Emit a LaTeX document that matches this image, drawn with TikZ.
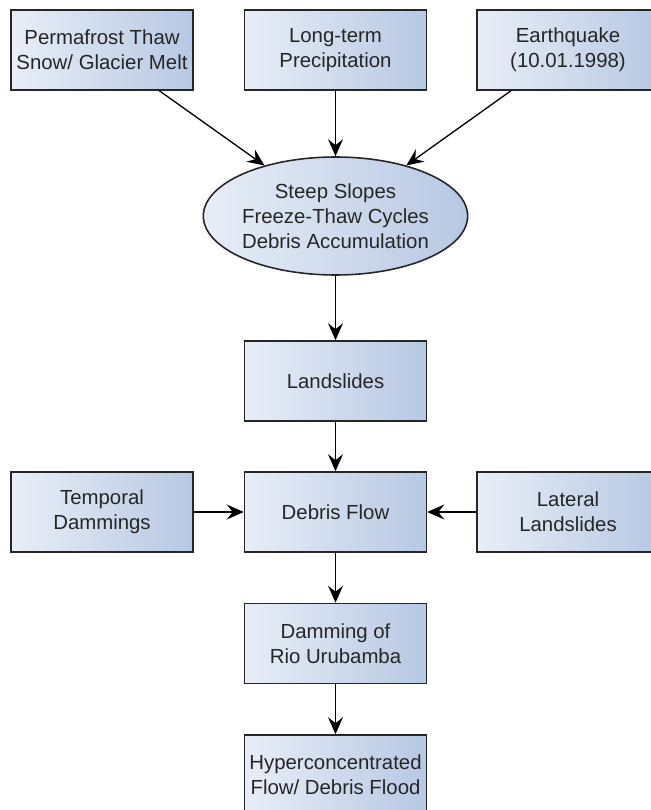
\documentclass[tikz,border=0pt]{standalone}
\usepackage{fontspec}
\setmainfont{Liberation Sans}
\usepackage{xcolor}
\usetikzlibrary{arrows.meta,shapes}

\definecolor{boxlight}{RGB}{232,238,247}
\definecolor{boxdark}{RGB}{183,200,227}
\definecolor{boxtext}{RGB}{38,38,38}

\tikzset{
  cause/.style={draw=black!85,line width=0.9pt,left color=boxlight,right color=boxdark,
    text=boxtext,align=center,font=\fontsize{11.6}{14.2}\selectfont},
  stepbox/.style={cause,rectangle,minimum width=3.64cm,minimum height=1.6cm,inner sep=0pt},
  factors/.style={cause,ellipse,minimum width=5.28cm,minimum height=2.36cm,inner sep=0pt},
  flow/.style={->,line width=0.75pt,black}
}

\begin{document}
\begin{tikzpicture}[>={Stealth[length=0.34cm,width=0.3cm,inset=0.12cm]},x=0.02cm,y=-0.02cm]
\useasboundingbox (0,0) rectangle (651,810);
% triggers
\node[stepbox] (thaw) at (102,50) {Permafrost Thaw\\Snow/ Glacier Melt};
\node[stepbox] (rain) at (335.5,50) {Long-term\\Precipitation};
\node[stepbox] (quake) at (568,50) {Earthquake\\(10.01.1998)};
% site conditions
\node[factors] (slopes) at (335.5,216) {Steep Slopes\\Freeze-Thaw Cycles\\Debris Accumulation};
% process chain
\node[stepbox] (slides) at (335.5,381) {Landslides};
\node[stepbox] (debris) at (335.5,512) {Debris Flow};
\node[stepbox] (tempdam) at (102,512) {Temporal\\Dammings};
\node[stepbox] (latslide) at (568,512) {Lateral\\Landslides};
\node[stepbox] (dam) at (335.5,643.5) {Damming of\\Rio Urubamba};
\node[stepbox] (hyper) at (335.5,775) {Hyperconcentrated\\Flow/ Debris Flood};

\draw[flow] (thaw) -- (slopes);
\draw[flow] (rain) -- (slopes);
\draw[flow] (quake) -- (slopes);
\draw[flow] (slopes) -- (slides);
\draw[flow] (slides) -- (debris);
\draw[flow] (tempdam) -- (debris);
\draw[flow] (latslide) -- (debris);
\draw[flow] (debris) -- (dam);
\draw[flow] (dam) -- (hyper);
\end{tikzpicture}
\end{document}
